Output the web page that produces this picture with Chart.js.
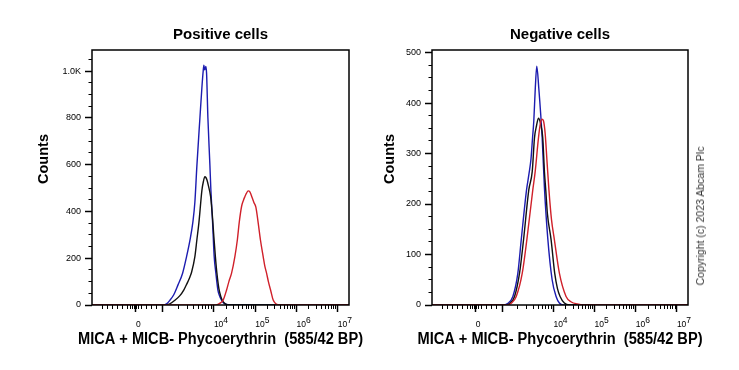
<!DOCTYPE html>
<html><head><meta charset="utf-8">
<script src="https://cdn.jsdelivr.net/npm/chart.js@4.4.1/dist/chart.umd.min.js"></script>
<style>
html,body{margin:0;padding:0;background:#fff;width:739px;height:370px;overflow:hidden;position:relative;font-family:"Liberation Sans",Arial,sans-serif;}
canvas{position:absolute;top:0;}
#c1{left:0;}
#c2{left:381px;}
#copy{position:absolute;left:700px;top:216px;transform:translate(-50%,-50%) rotate(-90deg);white-space:nowrap;font-size:10.5px;color:#333;}
</style></head><body>
<canvas id="c1" width="441" height="370"></canvas>
<canvas id="c2" width="358" height="370"></canvas>
<div id="copy">Copyright (c) 2023 Abcam Plc</div>
<script>
// x positions are in display decades of the biexponential axis (4 = 10^4)
const posBlueX  = [1.05, 2.766, 2.863, 2.935, 3.032, 3.129, 3.243, 3.339, 3.419, 3.492, 3.540, 3.589, 3.661, 3.710, 3.741, 3.758, 3.775, 3.789, 3.806, 3.823, 3.855, 3.903, 3.927, 3.969, 4.007, 4.048, 4.097, 4.145, 4.186, 4.242, 4.307, 4.387, 7.27];
const posBlueY  = [0, 0, 6, 20, 45, 85, 136, 207, 275, 355, 440, 597, 797, 930, 1000, 1025, 1005, 1010, 1020, 990, 800, 600, 493, 351, 207, 136, 64, 35, 21, 8, 2, 0, 0];
const posBlackX = [1.05, 2.814, 2.935, 3.056, 3.177, 3.274, 3.323, 3.371, 3.420, 3.460, 3.540, 3.589, 3.637, 3.710, 3.746, 3.782, 3.806, 3.831, 3.867, 3.920, 3.964, 4.000, 4.036, 4.073, 4.121, 4.169, 4.218, 4.290, 4.363, 7.27];
const posBlackY = [0, 0, 5, 20, 40, 65, 82, 100, 120, 140, 207, 280, 351, 490, 528, 548, 545, 535, 510, 464, 380, 290, 207, 136, 70, 35, 15, 4, 0, 0];
const posRedX   = [1.05, 4.000, 4.097, 4.169, 4.225, 4.307, 4.363, 4.428, 4.508, 4.569, 4.612, 4.670, 4.714, 4.750, 4.786, 4.830, 4.871, 4.927, 4.968, 5.016, 5.072, 5.125, 5.193, 5.234, 5.275, 5.319, 5.372, 5.435, 5.500, 5.597, 7.27];
const posRedY   = [0, 0, 3, 10, 21, 64, 100, 136, 207, 280, 351, 421, 447, 463, 477, 488, 484, 458, 438, 418, 351, 280, 207, 165, 136, 100, 64, 21, 5, 0, 0];

const negBlueX  = [1.05, 2.766, 2.887, 3.015, 3.136, 3.218, 3.347, 3.407, 3.456, 3.492, 3.523, 3.560, 3.596, 3.644, 3.727, 3.782, 3.862, 3.969, 4.065, 4.145, 4.242, 7.27];
const negBlueY  = [0, 0, 3, 17, 63, 129, 228, 260, 290, 330, 364, 430, 473, 430, 331, 232, 133, 50, 17, 4, 0, 0];
const negBlackX = [1.05, 2.839, 2.935, 3.056, 3.177, 3.274, 3.402, 3.485, 3.540, 3.589, 3.637, 3.685, 3.741, 3.782, 3.814, 3.855, 3.944, 4.031, 4.097, 4.162, 4.266, 4.387, 7.27];
const negBlackY = [0, 0, 3, 17, 63, 129, 228, 264, 331, 355, 370, 360, 331, 264, 228, 180, 129, 63, 33, 17, 4, 0, 0];
const negRedX   = [1.05, 2.863, 2.984, 3.097, 3.243, 3.354, 3.499, 3.557, 3.637, 3.685, 3.722, 3.758, 3.799, 3.848, 3.891, 3.952, 4.024, 4.145, 4.307, 4.436, 4.581, 4.726, 7.27];
const negRedY   = [0, 0, 4, 17, 63, 129, 228, 264, 331, 360, 368, 365, 340, 280, 228, 170, 129, 63, 17, 6, 2, 0, 0];

// axis ticks
const xMajorTicks  = [2.113, 2.759, 4, 5, 6, 7];
const xMajorLabels = [['', '0'], '', ['    4', '10'], ['    5', '10'], ['    6', '10'], ['    7', '10']];
const xLinearMinor = [1.314, 1.435, 1.556, 1.677, 1.798, 1.919, 1.992, 2.040, 2.089, 2.137, 2.185, 2.258, 2.379, 2.500, 2.621];
const posYTicks  = [0, 200, 400, 600, 800, 1000];
const posYLabels = ['0', '200', '400', '600', '800', '1.0K'];
const negYTicks  = [0, 100, 200, 300, 400, 500];
const negYLabels = ['0', '100', '200', '300', '400', '500'];

const X_TITLE = 'MICA + MICB- Phycoerythrin  (585/42 BP)';
const Y_TITLE = 'Counts';
const FONT = '"Liberation Sans", Arial, sans-serif';
const X_MIN = 1.05, X_MAX = 7.27;

const xMinorTicks = (() => {
  const t = xLinearMinor.slice();
  for (let m = 2; m <= 9; m++) t.push(2.759 + 1.241 * Math.log10(m));
  for (const k of [4, 5, 6]) for (let m = 2; m <= 9; m++) t.push(k + Math.log10(m));
  return t;
})();

const pts = (xs, ys) => xs.map((x, i) => ({x: x, y: ys[i]}));

const framePlugin = {
  id: 'frame',
  afterDatasetsDraw(chart) {
    const a = chart.chartArea, ctx = chart.ctx;
    ctx.save();
    ctx.strokeStyle = '#000';
    ctx.lineWidth = 1.5;
    ctx.strokeRect(a.left, a.top, a.right - a.left, a.bottom - a.top);
    ctx.restore();
  }
};
const axisTitlePlugin = {
  id: 'axisTitles',
  afterDraw(chart, args, opts) {
    const ctx = chart.ctx, a = chart.chartArea;
    ctx.save();
    ctx.fillStyle = '#000';
    ctx.textAlign = 'center';
    ctx.textBaseline = 'middle';
    ctx.font = 'bold 16px ' + FONT;
    ctx.fillText(opts.xText, (a.left + a.right) / 2, opts.xY, 285);
    ctx.translate(opts.yX, opts.yY);
    ctx.rotate(-Math.PI / 2);
    ctx.font = 'bold 14.5px ' + FONT;
    ctx.fillText(opts.yText, 0, 0);
    ctx.restore();
  }
};

function makeChart(id, title, series, yMax, yTicks, yLabels, yMinorStep, yWidth, yTitleX) {
  const yMinor = [];
  for (let v = 0; v <= yMax; v += yMinorStep) yMinor.push(v);
  const colors = ['#d0202a', '#111111', '#1c1cb0'];
  return new Chart(document.getElementById(id), {
    type: 'line',
    data: {
      datasets: series.map((s, i) => ({
        data: pts(s[0], s[1]),
        borderColor: colors[i],
        borderWidth: 1.4,
        pointRadius: 0,
        fill: false,
        cubicInterpolationMode: 'monotone',
        order: i
      }))
    },
    options: {
      responsive: false,
      animation: false,
      devicePixelRatio: 1,
      layout: {padding: 0},
      plugins: {
        legend: {display: false},
        tooltip: {enabled: false},
        title: {display: true, text: title, color: '#000',
                font: {family: FONT, size: 15, weight: 'bold', lineHeight: 1.2},
                padding: {top: 26, bottom: 6}},
        axisTitles: {xText: X_TITLE, xY: 339.5, yText: Y_TITLE, yX: yTitleX, yY: 159}
      },
      scales: {
        x: {
          type: 'linear', position: 'bottom', weight: 1, min: X_MIN, max: X_MAX,
          afterBuildTicks: a => { a.ticks = xMajorTicks.map(v => ({value: v})); },
          afterFit: s => { s.height = 65; },
          grid: {display: true, drawOnChartArea: false, drawTicks: true, tickLength: 7, tickWidth: 1.5, tickColor: '#000'},
          border: {display: false},
          ticks: {autoSkip: false, maxRotation: 0, minRotation: 0, align: 'start', padding: 6.5, color: '#000',
                  font: {family: FONT, size: 8.5, lineHeight: 0.45},
                  callback: (v, i) => xMajorLabels[i]}
        },
        xm: {
          type: 'linear', position: 'bottom', weight: 0, min: X_MIN, max: X_MAX,
          afterBuildTicks: a => { a.ticks = xMinorTicks.map(v => ({value: v})); },
          afterFit: s => { s.height = 0; },
          grid: {display: true, drawOnChartArea: false, drawTicks: true, tickLength: 4, tickWidth: 1, tickColor: '#000'},
          border: {display: false},
          ticks: {display: false}
        },
        y: {
          type: 'linear', position: 'left', weight: 1, min: 0, max: yMax,
          afterBuildTicks: a => { a.ticks = yTicks.map(v => ({value: v})); },
          afterFit: s => { s.width = yWidth; },
          grid: {display: true, drawOnChartArea: false, drawTicks: true, tickLength: 7, tickWidth: 1.5, tickColor: '#000'},
          border: {display: false},
          ticks: {autoSkip: false, padding: 4, color: '#000', font: {family: FONT, size: 9},
                  callback: (v, i) => yLabels[i]}
        },
        ym: {
          type: 'linear', position: 'left', weight: 0, min: 0, max: yMax,
          afterBuildTicks: a => { a.ticks = yMinor.map(v => ({value: v})); },
          afterFit: s => { s.width = 0; },
          grid: {display: true, drawOnChartArea: false, drawTicks: true, tickLength: 3.5, tickWidth: 1, tickColor: '#000'},
          border: {display: false},
          ticks: {display: false}
        },
        yr: {
          type: 'linear', position: 'right', min: 0, max: yMax,
          afterFit: s => { s.width = yWidth; },
          grid: {display: false},
          border: {display: false},
          ticks: {display: false}
        }
      }
    },
    plugins: [framePlugin, axisTitlePlugin]
  });
}

makeChart('c1', 'Positive cells',
  [[posRedX, posRedY], [posBlackX, posBlackY], [posBlueX, posBlueY]],
  1090, posYTicks, posYLabels, 50, 92, 44);
makeChart('c2', 'Negative cells',
  [[negRedX, negRedY], [negBlackX, negBlackY], [negBlueX, negBlueY]],
  505, negYTicks, negYLabels, 25, 51, 9);
</script>
</body></html>
